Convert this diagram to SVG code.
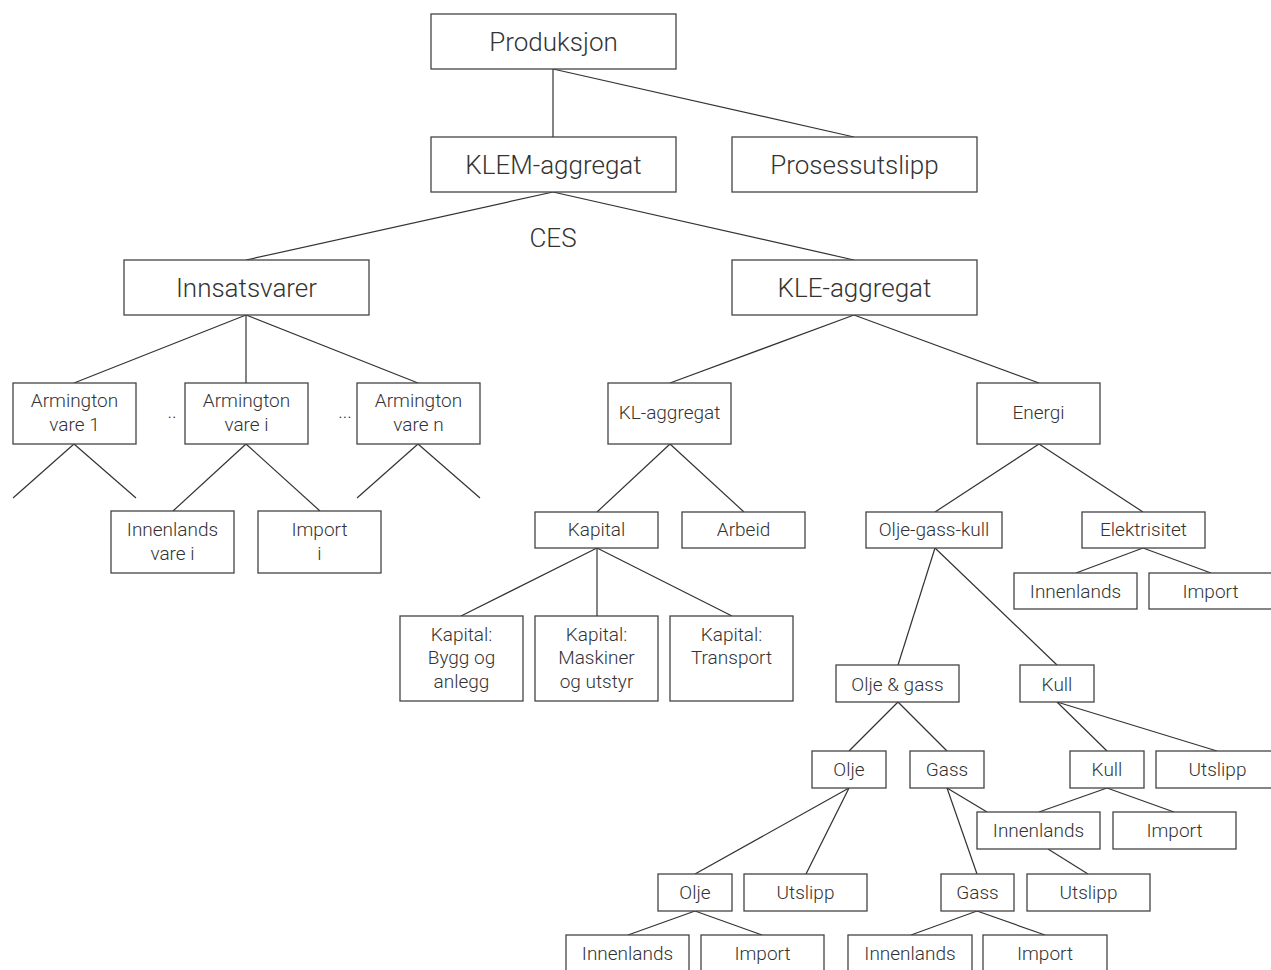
<svg xmlns="http://www.w3.org/2000/svg" width="1271" height="970" viewBox="0 0 1271 970">
<style>
rect{fill:#fff;stroke:#444;stroke-width:1.3}
text{font-family:Roboto,"Liberation Sans",sans-serif;font-weight:300;fill:#333;text-anchor:middle}
.b{font-size:26px}
.s{font-size:19px}
#connectors line{stroke:#333;stroke-width:1.2}
</style>
<rect x="0" y="0" width="1271" height="970" style="fill:#fff;stroke:none"/>
<g id="connectors">
<line x1="553" y1="69" x2="553" y2="137"/>
<line x1="553" y1="69" x2="854" y2="137"/>
<line x1="553" y1="192" x2="246" y2="260"/>
<line x1="553" y1="192" x2="854" y2="260"/>
<line x1="246" y1="315" x2="74" y2="383"/>
<line x1="246" y1="315" x2="246" y2="383"/>
<line x1="246" y1="315" x2="418" y2="383"/>
<line x1="74" y1="444" x2="13" y2="498"/>
<line x1="74" y1="444" x2="136" y2="498"/>
<line x1="246" y1="444" x2="173" y2="511"/>
<line x1="246" y1="444" x2="320" y2="511"/>
<line x1="418" y1="444" x2="357" y2="498"/>
<line x1="418" y1="444" x2="480" y2="498"/>
<line x1="854" y1="315" x2="670" y2="383"/>
<line x1="854" y1="315" x2="1039" y2="383"/>
<line x1="670" y1="444" x2="597" y2="512"/>
<line x1="670" y1="444" x2="744" y2="512"/>
<line x1="597" y1="548" x2="461" y2="616"/>
<line x1="597" y1="548" x2="597" y2="616"/>
<line x1="597" y1="548" x2="732" y2="616"/>
<line x1="1039" y1="444" x2="935" y2="512"/>
<line x1="1039" y1="444" x2="1143" y2="512"/>
<line x1="1143" y1="548" x2="1076" y2="573"/>
<line x1="1143" y1="548" x2="1211" y2="573"/>
<line x1="935" y1="548" x2="898" y2="665"/>
<line x1="935" y1="548" x2="1057" y2="665"/>
<line x1="898" y1="702" x2="849" y2="751"/>
<line x1="898" y1="702" x2="947" y2="751"/>
<line x1="849" y1="788" x2="695" y2="874"/>
<line x1="849" y1="788" x2="806" y2="874"/>
<line x1="695" y1="911" x2="628" y2="935"/>
<line x1="695" y1="911" x2="762" y2="935"/>
<line x1="947" y1="788" x2="987" y2="812"/>
<line x1="947" y1="788" x2="977" y2="874"/>
<line x1="977" y1="911" x2="911" y2="935"/>
<line x1="977" y1="911" x2="1045" y2="935"/>
<line x1="1057" y1="702" x2="1107" y2="751"/>
<line x1="1057" y1="702" x2="1217" y2="751"/>
<line x1="1107" y1="788" x2="1039" y2="812"/>
<line x1="1107" y1="788" x2="1174" y2="812"/>
<line x1="1048" y1="849" x2="1088" y2="874"/>
</g>
<g id="produksjon"><rect x="431" y="14" width="245" height="55"/><text class="b" x="553.5" y="51">Produksjon</text></g>
<g id="klem"><rect x="431" y="137" width="245" height="55"/><text class="b" x="553.5" y="174">KLEM-aggregat</text></g>
<g id="prosessutslipp"><rect x="732" y="137" width="245" height="55"/><text class="b" x="854.5" y="174">Prosessutslipp</text></g>
<g id="ces"><text class="b" x="553" y="247">CES</text></g>
<g id="innsatsvarer"><rect x="124" y="260" width="245" height="55"/><text class="b" x="246.5" y="297">Innsatsvarer</text></g>
<g id="kle"><rect x="732" y="260" width="245" height="55"/><text class="b" x="854.5" y="297">KLE-aggregat</text></g>
<g id="arm1"><rect x="13" y="383" width="123" height="61"/><text class="s" x="74.5" y="407">Armington</text><text class="s" x="74.5" y="431">vare 1</text></g>
<g id="dots1"><text class="s" x="172" y="418">..</text></g>
<g id="armi"><rect x="185" y="383" width="123" height="61"/><text class="s" x="246.5" y="407">Armington</text><text class="s" x="246.5" y="431">vare i</text></g>
<g id="dots2"><text class="s" x="345" y="418">...</text></g>
<g id="armn"><rect x="357" y="383" width="123" height="61"/><text class="s" x="418.5" y="407">Armington</text><text class="s" x="418.5" y="431">vare n</text></g>
<g id="innvi"><rect x="111" y="511" width="123" height="62"/><text class="s" x="172.5" y="536">Innenlands</text><text class="s" x="172.5" y="560">vare i</text></g>
<g id="impi"><rect x="258" y="511" width="123" height="62"/><text class="s" x="319.5" y="536">Import</text><text class="s" x="319.5" y="560">i</text></g>
<g id="kl"><rect x="608" y="383" width="123" height="61"/><text class="s" x="669.5" y="419">KL-aggregat</text></g>
<g id="energi"><rect x="977" y="383" width="123" height="61"/><text class="s" x="1038.5" y="419">Energi</text></g>
<g id="kapital"><rect x="535" y="512" width="123" height="36"/><text class="s" x="596.5" y="536">Kapital</text></g>
<g id="arbeid"><rect x="682" y="512" width="123" height="36"/><text class="s" x="743.5" y="536">Arbeid</text></g>
<g id="bygg"><rect x="400" y="616" width="123" height="85"/><text class="s" x="461.5" y="641">Kapital:</text><text class="s" x="461.5" y="664">Bygg og</text><text class="s" x="461.5" y="688">anlegg</text></g>
<g id="maskiner"><rect x="535" y="616" width="123" height="85"/><text class="s" x="596.5" y="641">Kapital:</text><text class="s" x="596.5" y="664">Maskiner</text><text class="s" x="596.5" y="688">og utstyr</text></g>
<g id="transport"><rect x="670" y="616" width="123" height="85"/><text class="s" x="731.5" y="641">Kapital:</text><text class="s" x="731.5" y="664">Transport</text></g>
<g id="ogk"><rect x="866" y="512" width="136" height="36"/><text class="s" x="934" y="536">Olje-gass-kull</text></g>
<g id="elektrisitet"><rect x="1082" y="512" width="123" height="36"/><text class="s" x="1143.5" y="536">Elektrisitet</text></g>
<g id="el-inn"><rect x="1014" y="573" width="123" height="36"/><text class="s" x="1075.5" y="598">Innenlands</text></g>
<g id="el-imp"><rect x="1149" y="573" width="123" height="36"/><text class="s" x="1210.5" y="598">Import</text></g>
<g id="oljegass"><rect x="836" y="665" width="123" height="37"/><text class="s" x="897.5" y="691">Olje &amp; gass</text></g>
<g id="kull"><rect x="1020" y="665" width="74" height="37"/><text class="s" x="1057" y="691">Kull</text></g>
<g id="olje"><rect x="812" y="751" width="74" height="37"/><text class="s" x="849" y="776">Olje</text></g>
<g id="gass"><rect x="910" y="751" width="74" height="37"/><text class="s" x="947" y="776">Gass</text></g>
<g id="kull2"><rect x="1070" y="751" width="74" height="37"/><text class="s" x="1107" y="776">Kull</text></g>
<g id="kull-utslipp"><rect x="1156" y="751" width="123" height="37"/><text class="s" x="1217.5" y="776">Utslipp</text></g>
<g id="kull-inn"><rect x="977" y="812" width="123" height="37"/><text class="s" x="1038.5" y="837">Innenlands</text></g>
<g id="kull-imp"><rect x="1113" y="812" width="123" height="37"/><text class="s" x="1174.5" y="837">Import</text></g>
<g id="olje2"><rect x="658" y="874" width="74" height="37"/><text class="s" x="695" y="899">Olje</text></g>
<g id="olje-utslipp"><rect x="744" y="874" width="123" height="37"/><text class="s" x="805.5" y="899">Utslipp</text></g>
<g id="gass2"><rect x="941" y="874" width="73" height="37"/><text class="s" x="977.5" y="899">Gass</text></g>
<g id="gass-utslipp"><rect x="1027" y="874" width="123" height="37"/><text class="s" x="1088.5" y="899">Utslipp</text></g>
<g id="olje-inn"><rect x="566" y="935" width="123" height="40"/><text class="s" x="627.5" y="960">Innenlands</text></g>
<g id="olje-imp"><rect x="701" y="935" width="123" height="40"/><text class="s" x="762.5" y="960">Import</text></g>
<g id="gass-inn"><rect x="848" y="935" width="124" height="40"/><text class="s" x="910" y="960">Innenlands</text></g>
<g id="gass-imp"><rect x="983" y="935" width="124" height="40"/><text class="s" x="1045" y="960">Import</text></g>
</svg>
